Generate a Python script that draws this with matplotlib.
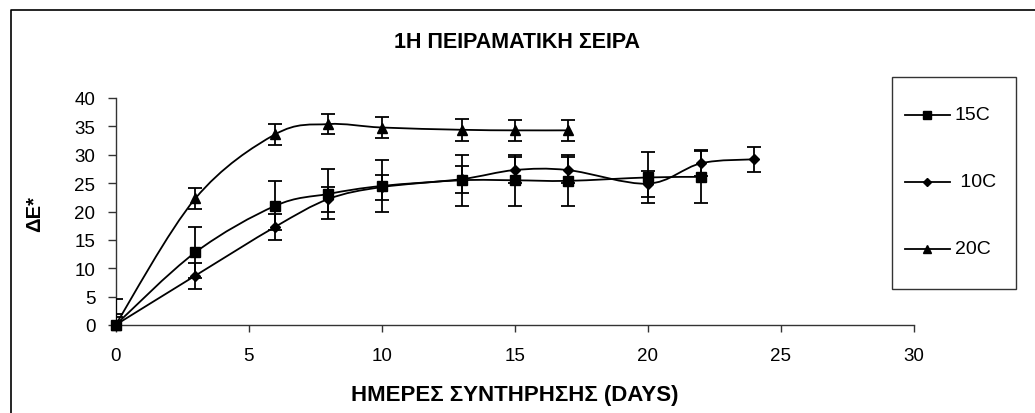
import matplotlib
matplotlib.use('Agg')
import matplotlib.pyplot as plt
from matplotlib.path import Path
from matplotlib.patches import PathPatch, Rectangle
from matplotlib.lines import Line2D
import numpy as np

plt.rcParams['font.family'] = ['Liberation Sans', 'DejaVu Sans']

# colour difference per storage temperature
days_15 = [0, 3, 6, 8, 10, 13, 15, 17, 20, 22]
de_15 = [0, 12.8, 21.0, 23.1, 24.5, 25.5, 25.5, 25.4, 26.0, 26.1]
err_15 = [4.6, 4.5, 4.3, 4.4, 4.5, 4.5, 4.5, 4.5, 4.5, 4.6]

days_10 = [0, 3, 6, 8, 10, 13, 15, 17, 20, 22, 24]
de_10 = [0, 8.7, 17.3, 22.2, 24.3, 25.7, 27.3, 27.3, 24.9, 28.5, 29.2]
err_10 = [2.0, 2.3, 2.3, 2.2, 2.2, 2.4, 2.3, 2.3, 2.3, 2.3, 2.2]

days_20 = [0, 3, 6, 8, 10, 13, 15, 17]
de_20 = [0, 22.3, 33.6, 35.4, 34.8, 34.4, 34.3, 34.3]
err_20 = [1.4, 1.8, 1.8, 1.8, 1.8, 1.9, 1.8, 1.8]

labels = ['15C', ' 10C', '20C']
markers = ['s', 'D', '^']
msizes = [6.5, 5.5, 7.5]

title = '1Η ΠΕΙΡΑΜΑΤΙΚΗ ΣΕΙΡΑ'
xlabel = 'ΗΜΕΡΕΣ ΣΥΝΤΗΡΗΣΗΣ (DAYS)'
ylabel = 'ΔE*'


def smooth_path(x, y):
    # Catmull-Rom style cubic bezier through the points
    pts = np.column_stack([np.asarray(x, float), np.asarray(y, float)])
    n = len(pts)
    verts = [pts[0]]
    codes = [Path.MOVETO]
    for i in range(n - 1):
        p0 = pts[max(i - 1, 0)]
        p1 = pts[i]
        p2 = pts[i + 1]
        p3 = pts[min(i + 2, n - 1)]
        verts += [p1 + (p2 - p0) / 6, p2 - (p3 - p1) / 6, p2]
        codes += [Path.CURVE4] * 3
    return Path(verts, codes)


W, H = 1035, 414
fig = plt.figure(figsize=(W / 100, H / 100), dpi=100)
ax = fig.add_axes([115.5 / W, 1 - 326 / H, (914 - 115.5) / W, (326 - 99) / H])

series = [(days_15, de_15, err_15), (days_10, de_10, err_10), (days_20, de_20, err_20)]
for (d, v, e), m, ms in zip(series, markers, msizes):
    ax.add_patch(PathPatch(smooth_path(d, v), facecolor='none', edgecolor='black', lw=1.3, zorder=3))
    ax.errorbar(d, v, yerr=e, fmt='none', ecolor='black', elinewidth=1.3, capsize=4.7, capthick=1.3, zorder=4)
    ax.plot(d, v, linestyle='none', marker=m, markersize=ms, color='black', zorder=5, clip_on=False)

ax.set_xlim(0, 30)
ax.set_ylim(0, 40)
ax.set_xticks(range(0, 31, 5))
ax.set_yticks(range(0, 41, 5))
for s in ['top', 'right']:
    ax.spines[s].set_visible(False)
for s in ['left', 'bottom']:
    ax.spines[s].set_color('#333333')
    ax.spines[s].set_linewidth(1.0)
ax.tick_params(axis='y', direction='out', length=5.5, width=1.0, color='#333333', labelsize=13.5, pad=9)
ax.tick_params(axis='x', direction='out', length=5, width=1.0, color='#333333', labelsize=13.5, pad=11)

fig.text(517 / W, 1 - 42 / H, title, ha='center', va='center', fontsize=15.5, fontweight='bold')
fig.text(515 / W, 1 - 396 / H, xlabel, ha='center', va='center', fontsize=16, fontweight='bold')
fig.text(35 / W, 1 - 214 / H, ylabel, ha='center', va='center', rotation=90, fontsize=14.5, fontweight='bold')

# legend drawn by hand inside its own frame
fig.add_artist(Rectangle((892 / W, 1 - 290 / H), (1016 - 892) / W, (290 - 78) / H,
                         transform=fig.transFigure, facecolor='white', edgecolor='#333333', lw=1.0))
for i, (lab, m, ms) in enumerate(zip(labels, markers, msizes)):
    yy = 1 - (116 + 67 * i) / H
    fig.add_artist(Line2D([905 / W, 950 / W], [yy, yy], transform=fig.transFigure, color='black', lw=1.3))
    fig.add_artist(Line2D([927 / W], [yy], transform=fig.transFigure, marker=m, markersize=ms * 0.8,
                          color='black', linestyle='none'))
    fig.text(955 / W, yy, lab, ha='left', va='center', fontsize=14)

# outer chart border
fig.add_artist(Line2D([10.5 / W, 10.5 / W, 1], [0, 1 - 11 / H, 1 - 11 / H], transform=fig.transFigure,
                      color='black', lw=1.2))

fig.savefig('out.png', dpi=100)
